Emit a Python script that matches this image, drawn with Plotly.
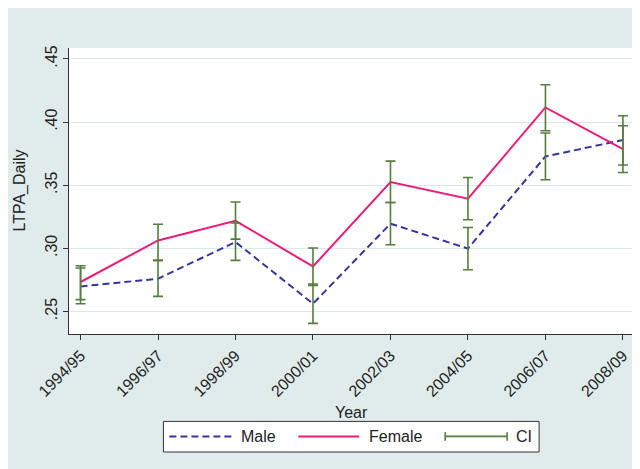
import plotly.graph_objects as go

years = ["1994/95", "1996/97", "1998/99", "2000/01", "2002/03", "2004/05", "2006/07", "2008/09"]
male = [0.2698, 0.2759, 0.3050, 0.2561, 0.3195, 0.2998, 0.3728, 0.3858]
female = [0.2733, 0.3062, 0.3218, 0.2856, 0.3525, 0.3393, 0.4116, 0.3786]
male_lo = [0.2561, 0.2619, 0.2904, 0.2405, 0.3028, 0.2830, 0.3543, 0.3660]
male_hi = [0.2844, 0.2904, 0.3200, 0.2717, 0.3363, 0.3165, 0.3913, 0.4050]
female_lo = [0.2593, 0.2904, 0.3073, 0.2706, 0.3363, 0.3226, 0.3931, 0.3601]
female_hi = [0.2862, 0.3190, 0.3367, 0.3002, 0.3691, 0.3561, 0.4296, 0.3971]
yticks = [0.25, 0.30, 0.35, 0.40, 0.45]
yticktext = [".25", ".30", ".35", ".40", ".45"]

OFF = 8  # page body margin
W, H = 640 - OFF, 469 - OFF
# plot-area edges in screenshot pixels
L, R, T, B = 68.5 - OFF, 633.0 - OFF, 48.3 - OFF, 334.3 - OFF
pw, ph = R - L, B - T

def px(x):
    return (x - OFF - L) / pw

def py(y):
    return (B - (y - OFF)) / ph

MALE_C = "#35359a"
FEM_C = "#ec1c7b"
CI_C = "#567d3e"
BG = "#e0ecec"
FONT = "Liberation Sans, Arial, sans-serif"

fig = go.Figure()
fig.add_trace(go.Scatter(x=years, y=male, mode="lines", name="Male",
                         line=dict(color=MALE_C, width=2, dash="7px,4px"), showlegend=False))
fig.add_trace(go.Scatter(x=years, y=female, mode="lines", name="Female",
                         line=dict(color=FEM_C, width=2), showlegend=False))
for c, lo, hi in [(male, male_lo, male_hi), (female, female_lo, female_hi)]:
    fig.add_trace(go.Scatter(
        x=years, y=c, mode="markers", name="CI", showlegend=False,
        marker=dict(color="rgba(0,0,0,0)", size=1),
        error_y=dict(type="data", symmetric=False,
                     array=[h - v for h, v in zip(hi, c)],
                     arrayminus=[v - l for v, l in zip(c, lo)],
                     color=CI_C, thickness=1.6, width=5),
        hoverinfo="skip"))

shapes = []
# legend box
shapes.append(dict(type="rect", xref="paper", yref="paper", x0=px(163), x1=px(539), y0=py(452.3), y1=py(421.7),
                   fillcolor="white", line=dict(color="#333333", width=1), layer="above"))
ly = py(436.7)
shapes.append(dict(type="line", xref="paper", yref="paper", x0=px(169), x1=px(231), y0=ly, y1=ly,
                   line=dict(color=MALE_C, width=2, dash="7px,4px"), layer="above"))
shapes.append(dict(type="line", xref="paper", yref="paper", x0=px(298), x1=px(359), y0=ly, y1=ly,
                   line=dict(color=FEM_C, width=2), layer="above"))
shapes.append(dict(type="line", xref="paper", yref="paper", x0=px(445), x1=px(507), y0=ly, y1=ly,
                   line=dict(color=CI_C, width=1.6), layer="above"))
for xc in (445, 507):
    shapes.append(dict(type="line", xref="paper", yref="paper", x0=px(xc), x1=px(xc), y0=py(441), y1=py(432.5),
                       line=dict(color=CI_C, width=1.6), layer="above"))

annotations = []
def txt(s, x, y, xanchor="left", angle=0):
    annotations.append(dict(text=s, x=px(x), y=py(y), xref="paper", yref="paper", showarrow=False,
                            xanchor=xanchor, yanchor="middle", textangle=angle,
                            font=dict(family=FONT, size=16, color="#222222")))
txt("Male", 239, 437)
txt("Female", 367, 437)
txt("CI", 514, 437)
txt("Year", 350.8, 412.5, xanchor="center")
txt("LTPA_Daily", 19, 191.3, xanchor="center", angle=-90)

fig.update_layout(
    width=W, height=H,
    margin=dict(l=L, r=W - R, t=T, b=H - B, autoexpand=False),
    paper_bgcolor=BG, plot_bgcolor="white",
    font=dict(family=FONT, size=16, color="#222222"),
    shapes=shapes, annotations=annotations, showlegend=False,
)
fig.update_xaxes(type="category", range=[-0.149, 7.13], tickangle=-45,
                 showline=True, linecolor="#333333", linewidth=1, mirror=False,
                 ticks="outside", ticklen=5, tickcolor="#333333", showgrid=False,
                 tickfont=dict(size=16), zeroline=False)
fig.update_yaxes(range=[0.2321, 0.4587], tickvals=yticks, ticktext=yticktext, tickangle=-90,
                 showline=True, linecolor="#333333", linewidth=1,
                 ticks="outside", ticklen=5, tickcolor="#333333",
                 showgrid=True, gridcolor="#dbe8e8", gridwidth=1.2, zeroline=False,
                 tickfont=dict(size=16))

fig.write_html("out.html")
